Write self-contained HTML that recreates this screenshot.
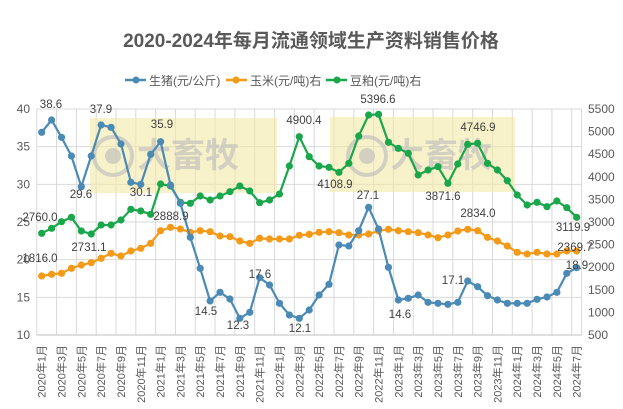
<!DOCTYPE html>
<html><head><meta charset="utf-8">
<style>
html,body{margin:0;padding:0;background:#fff;}
svg{display:block;font-family:"Liberation Sans","Noto Sans CJK SC",sans-serif;}
</style></head>
<body>
<svg id="c" width="623" height="409" viewBox="0 0 623 409" xmlns="http://www.w3.org/2000/svg">
<rect width="623" height="409" fill="#fff"/>
<text x="311" y="47" text-anchor="middle" font-size="19" font-weight="bold" fill="#595959">2020-2024年每月流通领域生产资料销售价格</text>
<g font-size="12" fill="#595959">
<line x1="125" y1="80" x2="146" y2="80" stroke="#4a8ab5" stroke-width="2.5"/><circle cx="136" cy="80" r="3.5" fill="#4a8ab5"/>
<text x="149" y="85">生猪(元/公斤)</text>
<line x1="226" y1="80" x2="247" y2="80" stroke="#f39a18" stroke-width="2.5"/><circle cx="236" cy="80" r="3.5" fill="#f39a18"/>
<text x="250" y="85">玉米(元/吨)右</text>
<line x1="326" y1="80" x2="347" y2="80" stroke="#1aa64a" stroke-width="2.5"/><circle cx="337" cy="80" r="3.5" fill="#1aa64a"/>
<text x="350" y="85">豆粕(元/吨)右</text>
</g>
<g id="grid" stroke="#d9d9d9" stroke-width="1"></g>
<rect x="90" y="118" width="187" height="75" fill="#f3eaa8" opacity="0.6"/>
<rect x="330" y="117" width="185" height="75" fill="#f3eaa8" opacity="0.6"/>
<g fill="#bbb" opacity="0.6" font-size="34" font-weight="bold">
<circle cx="113" cy="156" r="19" fill="none" stroke="#bbb" stroke-width="4"/><circle cx="113" cy="156" r="8"/>
<text x="137" y="167">大畜牧</text>
<circle cx="367" cy="156" r="19" fill="none" stroke="#bbb" stroke-width="4"/><circle cx="367" cy="156" r="8"/>
<text x="390" y="167">大畜牧</text>
</g>
<g id="series"></g>
<g id="labels" font-size="11.5" fill="#404040"></g>
</svg>
<script>
var ns="http://www.w3.org/2000/svg",svg=document.getElementById('c');
function el(p,t,a,txt){var e=document.createElementNS(ns,t);for(var k in a)e.setAttribute(k,a[k]);if(txt!=null)e.textContent=txt;p.appendChild(e);return e;}
var grid=document.getElementById('grid');
var L=36.75,R=581.6,T=109,B=335,W=9.907;
for(var i=0;i<=6;i++){var y=B-i*(B-T)/6;el(grid,'line',{x1:L,x2:R,y1:y,y2:y});
 el(svg,'text',{x:30,y:y+4,'text-anchor':'end','font-size':12,fill:'#595959'},String(10+5*i));}
for(var i=0;i<=27;i++){var x=L+i*2*W;el(grid,'line',{x1:x,x2:x,y1:T,y2:B});}
el(grid,'line',{x1:R,x2:R,y1:T,y2:B});
el(grid,'line',{x1:L,x2:R,y1:B,y2:B,stroke:'#bfbfbf'});
for(var i=0;i<=10;i++){var y=B-i*(B-T)/10;el(svg,'text',{x:588,y:y+4,'font-size':12,fill:'#595959'},String(500+500*i));}
// x labels
for(var m=0;m<55;m+=2){var yr=2020+Math.floor(m/12),mo=m%12+1,x=L+W/2+m*W;
 el(svg,'text',{x:0,y:0,transform:'translate('+(x+4)+',345) rotate(-90)','text-anchor':'end','font-size':11,fill:'#595959'},yr+'年'+mo+'月');}
function cv(a,oy){return a.map(function(v){return oy+v/3;});}
var blue=cv([142,105,157,213,305,213,120,127,177,292,298,208,170,300,355,457,550,648,622,642,700,682,578,600,655,690,700,675,630,598,480,483,437,367,432,547,645,640,630,652,655,658,652,588,605,632,645,655,655,655,643,636,622,565,548],85);
var orange=cv([573,568,565,550,540,533,520,505,513,498,490,475,437,427,432,442,437,440,453,455,468,475,460,462,462,462,451,448,442,440,443,450,450,447,438,433,437,440,443,450,458,450,438,433,437,457,468,483,502,507,502,507,507,498,498],85);
var green=cv([445,430,410,397,438,447,420,420,405,373,378,388,297,303,352,355,333,345,333,320,303,318,353,345,327,243,155,215,243,247,262,235,153,90,88,172,190,205,270,255,245,295,237,178,175,235,255,287,330,360,352,365,348,368,397],85);
var S=document.getElementById('series');
function draw(d,c){var p=d.map(function(y,i){return (L+W/2+i*W).toFixed(1)+','+y.toFixed(1);}).join(' ');
 el(S,'polyline',{points:p,fill:'none',stroke:c,'stroke-width':2.2});
 d.forEach(function(y,i){el(S,'circle',{cx:L+W/2+i*W,cy:y,r:3.6,fill:c});});}
draw(orange,'#f39a18');draw(green,'#1aa64a');draw(blue,'#4a8ab5');
var Lb=document.getElementById('labels');
[["38.6",51,108],["37.9",101,113],["29.6",81,198],["30.1",141,196],["35.9",162,128],["2760.0",40,221],["2731.1",89,251],["1816.0",40,262],["2888.9",171,220],["14.5",206,315],["12.3",238,329],["17.6",260,278],["12.1",300,332],["4900.4",304,124],["4108.9",335,188],["5396.6",378,103],["27.1",368,199],["14.6",400,318],["3871.6",443,200],["4746.9",478,131],["2834.0",478,217],["17.1",453,284],["3119.9",573,231],["2369.7",575,251],["18.9",577,269]].forEach(function(a){el(Lb,'text',{x:a[1],y:a[2],'text-anchor':'middle'},a[0]);});
</script>
</body></html>
